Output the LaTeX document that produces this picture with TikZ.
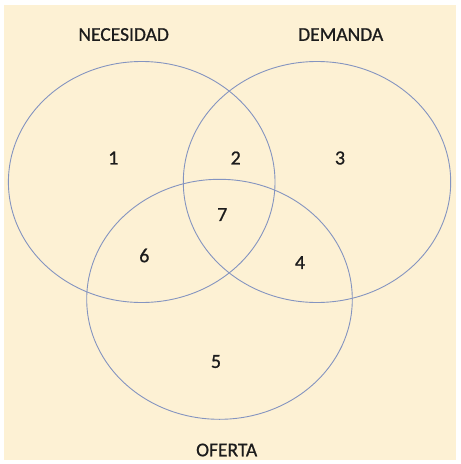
\documentclass[tikz,border=0pt]{standalone}
\usepackage{fontspec}
\setmainfont{Carlito}
\newfontfamily\heavyfont[FakeBold=0.8]{Carlito}
\definecolor{bgbeige}{HTML}{FDF1D4}
\definecolor{ringblue}{HTML}{8494C0}
\definecolor{txtdark}{HTML}{1C1C1C}
\tikzset{
  ring/.style={draw=ringblue, line width=0.9pt},
  lbl/.style={text=txtdark, font=\heavyfont\fontsize{19.5}{22}\selectfont, inner sep=0pt},
  num/.style={text=txtdark, font=\heavyfont\fontsize{20}{22}\selectfont, inner sep=0pt}
}
\begin{document}
\begin{tikzpicture}[x=1pt,y=-1pt]
\useasboundingbox (0,0) rectangle (461,464);
\fill[white] (0,0) rectangle (461,464);
\fill[bgbeige] (4,5) rectangle (456,460);
\draw[ring] (141.7,182) ellipse [x radius=133.3, y radius=120.5];
\draw[ring] (317,182) ellipse [x radius=133.7, y radius=120.5];
\draw[ring] (219.5,299.3) ellipse [x radius=132.8, y radius=120];
\node[lbl] (nec) at (123.7,34.5) {NECESIDAD};
\node[lbl] (dem) at (340.7,34.5) {DEMANDA};
\node[lbl] (ofe) at (226.7,450) {OFERTA};
\node[num] (n1) at (113.3,158) {1};
\node[num] (n2) at (235.7,158) {2};
\node[num] (n3) at (340,158) {3};
\node[num] (n7) at (222.3,214.5) {7};
\node[num] (n6) at (144.3,255.5) {6};
\node[num] (n4) at (300,262.5) {4};
\node[num] (n5) at (216,361.5) {5};
\end{tikzpicture}
\end{document}
